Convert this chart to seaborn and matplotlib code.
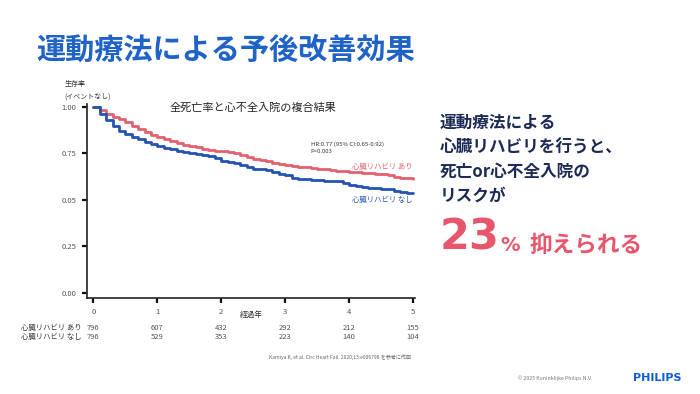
import numpy as np
import pandas as pd
import matplotlib
matplotlib.use('Agg')
import matplotlib.pyplot as plt
import matplotlib.transforms as mtransforms
import seaborn as sns

# --- data (every 0.1 year) ---
years = [round(0.1 * i, 1) for i in range(51)]
surv_rehab = [1.000, 0.983, 0.962, 0.946, 0.935, 0.918, 0.895, 0.880, 0.866, 0.850,
              0.838, 0.826, 0.818, 0.806, 0.797, 0.790, 0.784, 0.776, 0.769, 0.765,
              0.761, 0.758, 0.752, 0.741, 0.730, 0.722, 0.716, 0.708, 0.700, 0.694,
              0.690, 0.684, 0.679, 0.676, 0.671, 0.667, 0.664, 0.660, 0.655, 0.653,
              0.650, 0.648, 0.645, 0.643, 0.641, 0.641, 0.634, 0.625, 0.618, 0.615,
              0.614]
surv_none = [1.000, 0.962, 0.928, 0.900, 0.873, 0.855, 0.838, 0.826, 0.812, 0.800,
             0.788, 0.780, 0.771, 0.764, 0.758, 0.752, 0.745, 0.739, 0.734, 0.724,
             0.710, 0.703, 0.697, 0.688, 0.675, 0.668, 0.664, 0.658, 0.650, 0.640,
             0.632, 0.620, 0.613, 0.611, 0.608, 0.606, 0.604, 0.603, 0.600, 0.588,
             0.578, 0.574, 0.570, 0.566, 0.562, 0.559, 0.556, 0.550, 0.542, 0.537,
             0.536]

group_names = ['心臓リハビリ あり', '心臓リハビリ なし']
x_ticks = [0, 1, 2, 3, 4, 5]
y_ticks = [0.0, 0.25, 0.5, 0.75, 1.0]
y_tick_labels = ['0.00', '0.25', '0.05', '0.75', '1.00']   # as printed in the source
risk_rehab = [796, 607, 432, 292, 212, 155]
risk_none = [796, 529, 353, 223, 140, 104]

RED = '#e2616f'
BLUE = '#2453b0'
NAVY = '#1c2b55'
PINK = '#e8566b'

df = pd.concat([
    pd.DataFrame({'year': years, 'surv': surv_rehab, 'group': group_names[0]}),
    pd.DataFrame({'year': years, 'surv': surv_none, 'group': group_names[1]}),
])

sns.set_style('ticks')
plt.rcParams['font.family'] = ['Noto Sans CJK JP', 'DejaVu Sans']

fig = plt.figure(figsize=(7, 3.94), dpi=100)
ax = fig.add_axes([0.1243, 0.2437, 0.4686, 0.492])

sns.lineplot(data=df, x='year', y='surv', hue='group', palette=[RED, BLUE],
             estimator=None, sort=False, drawstyle='steps-post', linewidth=2,
             legend=False, ax=ax)

ax.set_xlim(-0.1, 5.03)
ax.set_ylim(-0.028, 1.015)
ax.set_xticks(x_ticks)
ax.set_xticklabels([str(t) for t in x_ticks])
ax.set_yticks(y_ticks)
ax.set_yticklabels(y_tick_labels)
ax.set_xlabel('')
ax.set_ylabel('')
sns.despine(ax=ax)
for s in ['left', 'bottom']:
    ax.spines[s].set_linewidth(1.2)
    ax.spines[s].set_color('#222222')
ax.tick_params(axis='both', length=3.5, width=1.6, color='#111111',
               labelsize=5.5, labelcolor='#555555', pad=4)

# axis annotations
ax.text(-0.45, 1.035, '生存率\n(イベントなし)', transform=ax.transData, fontsize=5,
        color='#333333', ha='left', va='bottom', linespacing=1.7)
ax.text(2.47, -0.117, '経過年', fontsize=5.5, color='#333333', ha='center', va='center')
ax.text(2.5, 0.995, '全死亡率と心不全入院の複合結果', fontsize=8, color='#222222',
        ha='center', va='center')
ax.text(3.4, 0.78, 'HR:0.77 (95% CI:0.65-0.92)\nP=0.003', fontsize=4.3, color='#333333',
        ha='left', va='center', linespacing=1.6)
ax.text(5.0, 0.677, group_names[0], fontsize=5.3, color=RED, ha='right', va='center')
ax.text(5.0, 0.497, group_names[1], fontsize=5.3, color=BLUE, ha='right', va='center')

# number at risk table
trans = mtransforms.blended_transform_factory(ax.transData, fig.transFigure)
for row_y, name, vals in [(1 - 328 / 394, group_names[0], risk_rehab),
                          (1 - 337 / 394, group_names[1], risk_none)]:
    ax.text(-0.18, row_y, name, transform=trans, fontsize=5.3, color='#333333',
            ha='right', va='center')
    for x, v in zip(x_ticks, vals):
        ax.text(x, row_y, str(v), transform=trans, fontsize=5.5, color='#555555',
                ha='center', va='center', clip_on=False)

fig.text(411 / 700, 1 - 357 / 394,
         'Kamiya K, et al. Circ Heart Fail. 2020;13:e006798.を参考に作図',
         fontsize=3.6, color='#666666', ha='right', va='center')

# title
fig.text(36 / 700, 1 - 50 / 394, '運動療法による予後改善効果', fontsize=21,
         fontweight='bold', color='#1f63c6', ha='left', va='center')

# right-hand message
msg_lines = ['運動療法による', '心臓リハビリを行うと、', '死亡or心不全入院の', 'リスクが']
for i, line in enumerate(msg_lines):
    fig.text(440 / 700, 1 - (123 + i * 24.3) / 394, line, fontsize=12,
             fontweight='bold', color=NAVY, ha='left', va='center')
fig.text(440 / 700, 1 - 250 / 394, '23', fontsize=31, fontweight='bold',
         color=PINK, ha='left', va='baseline', family=['DejaVu Sans'])
fig.text(500 / 700, 1 - 251 / 394, '%', fontsize=14, fontweight='bold',
         color=PINK, ha='left', va='baseline', family=['DejaVu Sans'])
fig.text(530 / 700, 1 - 252 / 394, '抑えられる', fontsize=16.3, fontweight='bold',
         color=PINK, ha='left', va='baseline')

# footer
fig.text(555 / 700, 1 - 378 / 394, '© 2025 Koninklijke Philips N.V.', fontsize=3.8,
         color='#777777', ha='center', va='center')
fig.text(657 / 700, 1 - 378 / 394, 'PHILIPS', fontsize=8, fontweight='bold',
         color='#0b5ed7', ha='center', va='center', family=['DejaVu Sans'])

fig.savefig('out.png', dpi=100, facecolor='white')
